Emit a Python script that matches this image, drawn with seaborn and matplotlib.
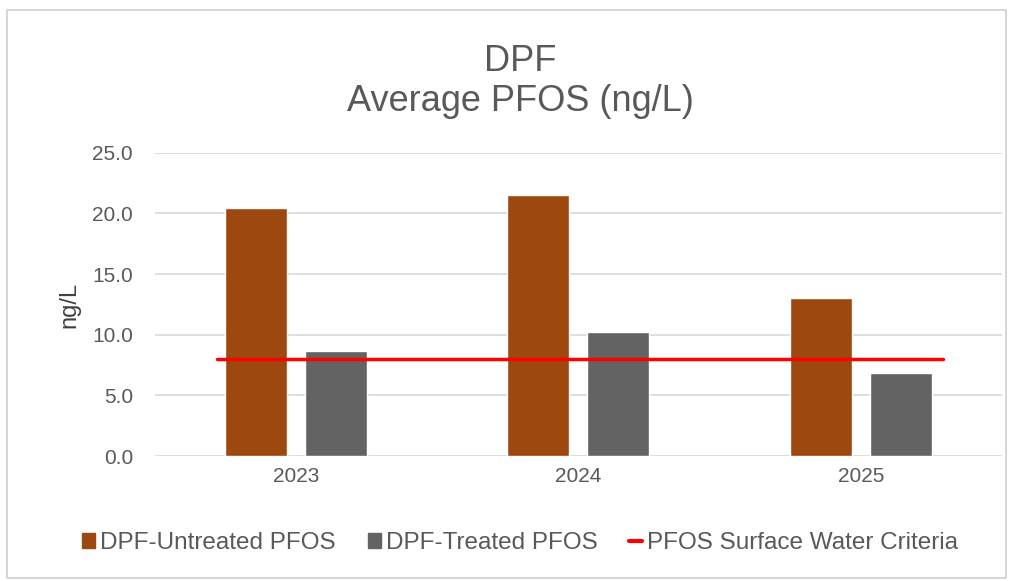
import numpy as np
import pandas as pd
import matplotlib
matplotlib.use("Agg")
import matplotlib.pyplot as plt
import matplotlib.patches as mpatches
from matplotlib.lines import Line2D
import seaborn as sns

years = ["2023", "2024", "2025"]
untreated = [20.45, 21.55, 13.05]
treated = [8.65, 10.25, 6.85]
criteria = 8.0
series_names = ["DPF-Untreated PFOS", "DPF-Treated PFOS"]
criteria_name = "PFOS Surface Water Criteria"

df = pd.DataFrame({
	"year": years * 2,
	"value": untreated + treated,
	"series": [series_names[0]] * 3 + [series_names[1]] * 3,
})

sns.set_theme(style="white")
plt.rcParams["font.family"] = ["Liberation Sans", "DejaVu Sans"]

brown = "#9C480E"
grey = "#636363"
txt = "#595959"

fig = plt.figure(figsize=(10.14, 5.81), dpi=100)
ax = fig.add_axes([0.153, 0.215, 0.835, 0.522])

sns.barplot(data=df, x="year", y="value", hue="series", order=years,
			hue_order=series_names, palette=[brown, grey],
			width=0.567, gap=0.225, saturation=1, legend=False, ax=ax)

ax.axhline(criteria, xmin=0.073, xmax=0.93, color="#FF0000", lw=2.5, zorder=5)

ax.set_ylim(0, 25)
ax.set_yticks(np.arange(0, 25.1, 5))
ax.set_yticklabels(["%.1f" % v for v in np.arange(0, 25.1, 5)])
ax.yaxis.grid(True, color="#d9d9d9", lw=1.2)
ax.set_axisbelow(True)
for s in ax.spines.values():
	s.set_visible(False)
ax.tick_params(axis="y", length=0, labelsize=15, colors=txt, pad=16)
ax.tick_params(axis="x", length=0, labelsize=15, colors=txt, pad=8)
ax.set_xlabel("")
ax.set_ylabel("ng/L", fontsize=17, color="#404040", labelpad=8)

fig.text(0.513, 0.895, "DPF", ha="center", va="center", fontsize=26, color=txt)
fig.text(0.513, 0.825, "Average PFOS (ng/L)", ha="center", va="center", fontsize=26, color=txt)

handles = [mpatches.Patch(color=brown, label=series_names[0]),
		   mpatches.Patch(color=grey, label=series_names[1]),
		   Line2D([0], [0], color="#FF0000", lw=3, label=criteria_name)]
fig.legend(handles=handles, loc="center", bbox_to_anchor=(0.513, 0.065), ncol=3,
		   frameon=False, fontsize=17.5, labelcolor=txt, handlelength=0.55,
		   handleheight=0.55, handletextpad=0.2, columnspacing=1.3)

# light border round the chart
fig.patches.append(mpatches.Rectangle((0.007, 0.005), 0.985, 0.978, transform=fig.transFigure,
									  fill=False, edgecolor="#d0d0d0", lw=1.2))

fig.savefig("out.png", dpi=100)
